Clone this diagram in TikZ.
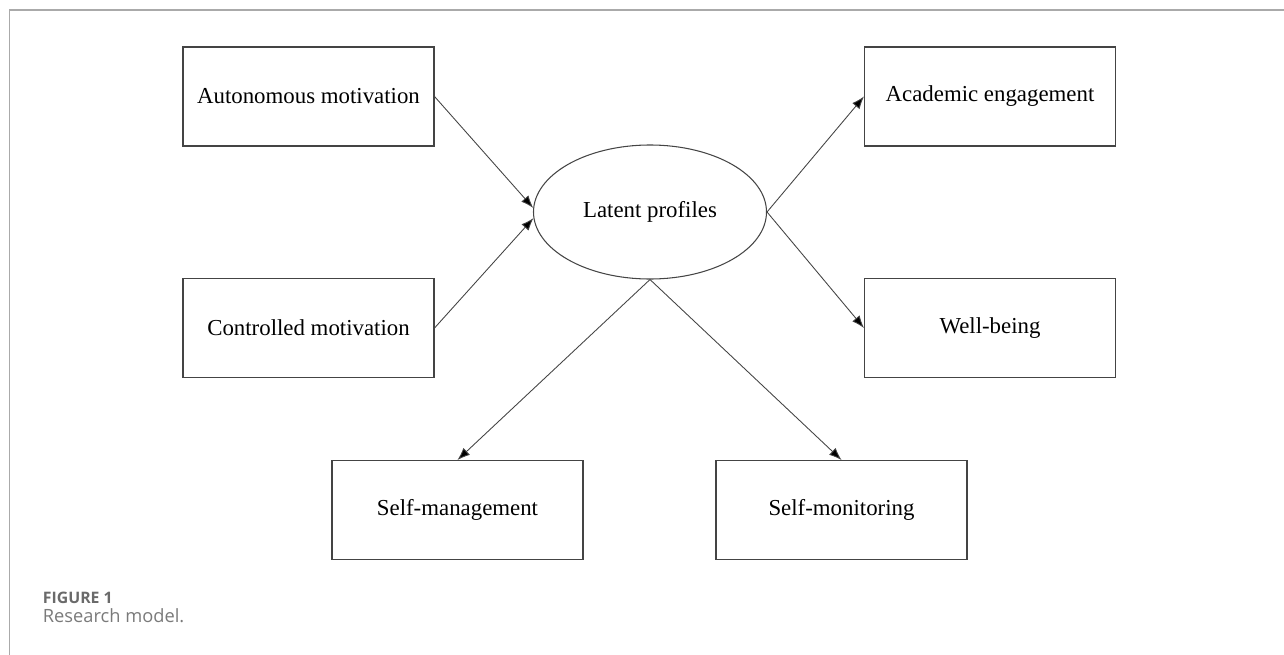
\documentclass[tikz,border=0pt]{standalone}
\usepackage{fontspec}
\setmainfont{Liberation Serif}
\newfontfamily\capfont{Open Sans}
\usetikzlibrary{arrows.meta,shapes.geometric}

\definecolor{rulegray}{HTML}{AAAAAA}
\definecolor{linegray}{HTML}{444444}
\definecolor{capgray}{HTML}{6A6A6A}
\definecolor{capgraylight}{HTML}{7A7A7A}

\begin{document}
\begin{tikzpicture}[-{Latex[length=2.5mm,width=1.9mm,fill=black]}, line width=0.5pt, draw=linegray,
  var/.style={rectangle, draw=linegray, line width=0.6pt, minimum width=5.02cm, minimum height=1.98cm, font=\fontsize{13}{15}\selectfont},
  lat/.style={ellipse, draw=linegray, line width=0.6pt, minimum width=4.66cm, minimum height=2.68cm, inner sep=0pt, font=\fontsize{13}{15}\selectfont}]

\useasboundingbox (0,0) rectangle (25.68,-13.1);
\draw[-, rulegray, line width=0.6pt] (0.19,-13.1) -- (0.19,-0.2) -- (25.68,-0.2);


\node[var] at (6.17,-1.93) (auto) {Autonomous motivation};
\node[var] at (6.17,-6.56) (ctrl) {Controlled motivation};

\node[lat] at (13.0,-4.24) (lp) {Latent profiles};

\node[var] at (19.8,-1.93) (eng) {Academic engagement};
\node[var] at (19.8,-6.56) (wb) {Well-being};

\node[var] at (9.15,-10.2) (smg) {Self-management};
\node[var] at (16.83,-10.2) (smn) {Self-monitoring};

\path (auto.east) edge (lp.178);
\path (ctrl.east) edge (lp.183);

\path (lp.east) edge (eng.west);
\path (lp.east) edge (wb.west);

\path (lp.south) edge (smg.north);
\path (lp.south) edge (smn.north);


\node[anchor=base west, text=capgray, font=\capfont\bfseries\fontsize{9}{10}\selectfont, inner sep=0pt] at (0.85,-12.06) (fig) {FIGURE 1};
\node[anchor=base west, text=capgraylight, font=\capfont\fontsize{10.4}{12}\selectfont, inner sep=0pt] at (0.85,-12.44) (cap) {Research model.};

\end{tikzpicture}
\end{document}
